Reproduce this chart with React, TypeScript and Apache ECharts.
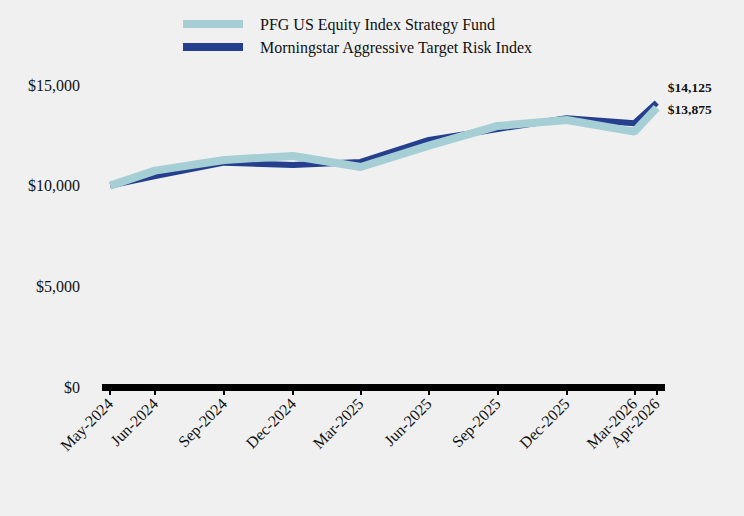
import React, { useEffect, useRef } from "react";
import * as echarts from "echarts";

const dateLabels = ["May-2024", "Jun-2024", "Sep-2024", "Dec-2024", "Mar-2025", "Jun-2025", "Sep-2025", "Dec-2025", "Mar-2026", "Apr-2026"];
const dates = [
  [2024, 4, 1], [2024, 5, 30], [2024, 8, 30], [2024, 11, 31], [2025, 2, 31],
  [2025, 5, 30], [2025, 8, 30], [2025, 11, 31], [2026, 2, 31], [2026, 3, 30],
];
const fundValues = [10000, 10745, 11277, 11475, 10930, 11990, 12965, 13264, 12683, 13875];
const indexValues = [10000, 10480, 11143, 11030, 11180, 12270, 12816, 13350, 13100, 14125];
const fundName = "PFG US Equity Index Strategy Fund";
const indexName = "Morningstar Aggressive Target Risk Index";

const DAY = 86400000;
const ts = dates.map((d) => Math.round(Date.UTC(d[0], d[1], d[2]) / DAY));
const labelMap: Record<number, string> = {};
ts.forEach((t, i) => (labelMap[t] = dateLabels[i]));

const fmt = (v: number) => "$" + v.toLocaleString("en-US");

export default function App() {
  const ref = useRef<HTMLDivElement>(null);
  useEffect(() => {
    const chart = echarts.init(ref.current!, null, { renderer: "svg" });
    const serif = "'Liberation Serif', 'Times New Roman', serif";
    const endLabel = (offsetY: number) => ({
      show: true,
      distance: 11,
      offset: [0, offsetY],
      formatter: (p: any) => fmt(p.value[1]),
      fontFamily: serif,
      fontWeight: "bold",
      fontSize: 13.5,
      color: "#111",
    });
    const mk = (vals: number[]) => vals.map((v, i) => [ts[i], v]);
    chart.setOption({
      animation: false,
      backgroundColor: "#f0f0f0",
      textStyle: { fontFamily: serif },
      legend: {
        data: [fundName, indexName],
        orient: "vertical",
        left: 178,
        top: 11,
        itemWidth: 60,
        itemHeight: 8,
        itemGap: 7,
        icon: "rect",
        textStyle: { fontFamily: serif, fontSize: 16, color: "#111", padding: [0, 0, 0, 12] },
      },
      grid: { left: 102, right: 79, top: 85, bottom: 129, containLabel: false },
      xAxis: {
        type: "value",
        min: ts[0] - 11,
        max: ts[ts.length - 1] + 11,
        splitLine: { show: false },
        axisLine: { show: true, onZero: false, lineStyle: { color: "#000", width: 7, cap: "butt" } },
        axisTick: { show: true, customValues: ts, length: 8, lineStyle: { color: "#000", width: 2 } },
        axisLabel: {
          customValues: ts,
          rotate: 45,
          margin: 14,
          fontFamily: serif,
          fontSize: 16,
          color: "#111",
          formatter: (v: number) => labelMap[v] ?? "",
        },
      },
      yAxis: {
        type: "value",
        min: 0,
        max: 15000,
        interval: 5000,
        splitLine: { show: false },
        axisLine: { show: false },
        axisTick: { show: false },
        axisLabel: {
          margin: 22,
          fontFamily: serif,
          fontSize: 16,
          color: "#111",
          formatter: (v: number) => fmt(v),
        },
      },
      series: [
        {
          name: indexName,
          type: "line",
          data: mk(indexValues),
          showSymbol: false,
          symbol: "none",
          color: "#253f8e",
          lineStyle: { width: 6, color: "#253f8e" },
          endLabel: endLabel(-15),
          z: 2,
        },
        {
          name: fundName,
          type: "line",
          data: mk(fundValues),
          showSymbol: false,
          symbol: "none",
          color: "#a6cfd5",
          lineStyle: { width: 8, color: "#a6cfd5" },
          endLabel: endLabel(2),
          z: 3,
        },
      ],
    });
    return () => chart.dispose();
  }, []);
  return <div ref={ref} style={{ position: "absolute", left: 0, top: 0, width: 744, height: 516 }} />;
}
